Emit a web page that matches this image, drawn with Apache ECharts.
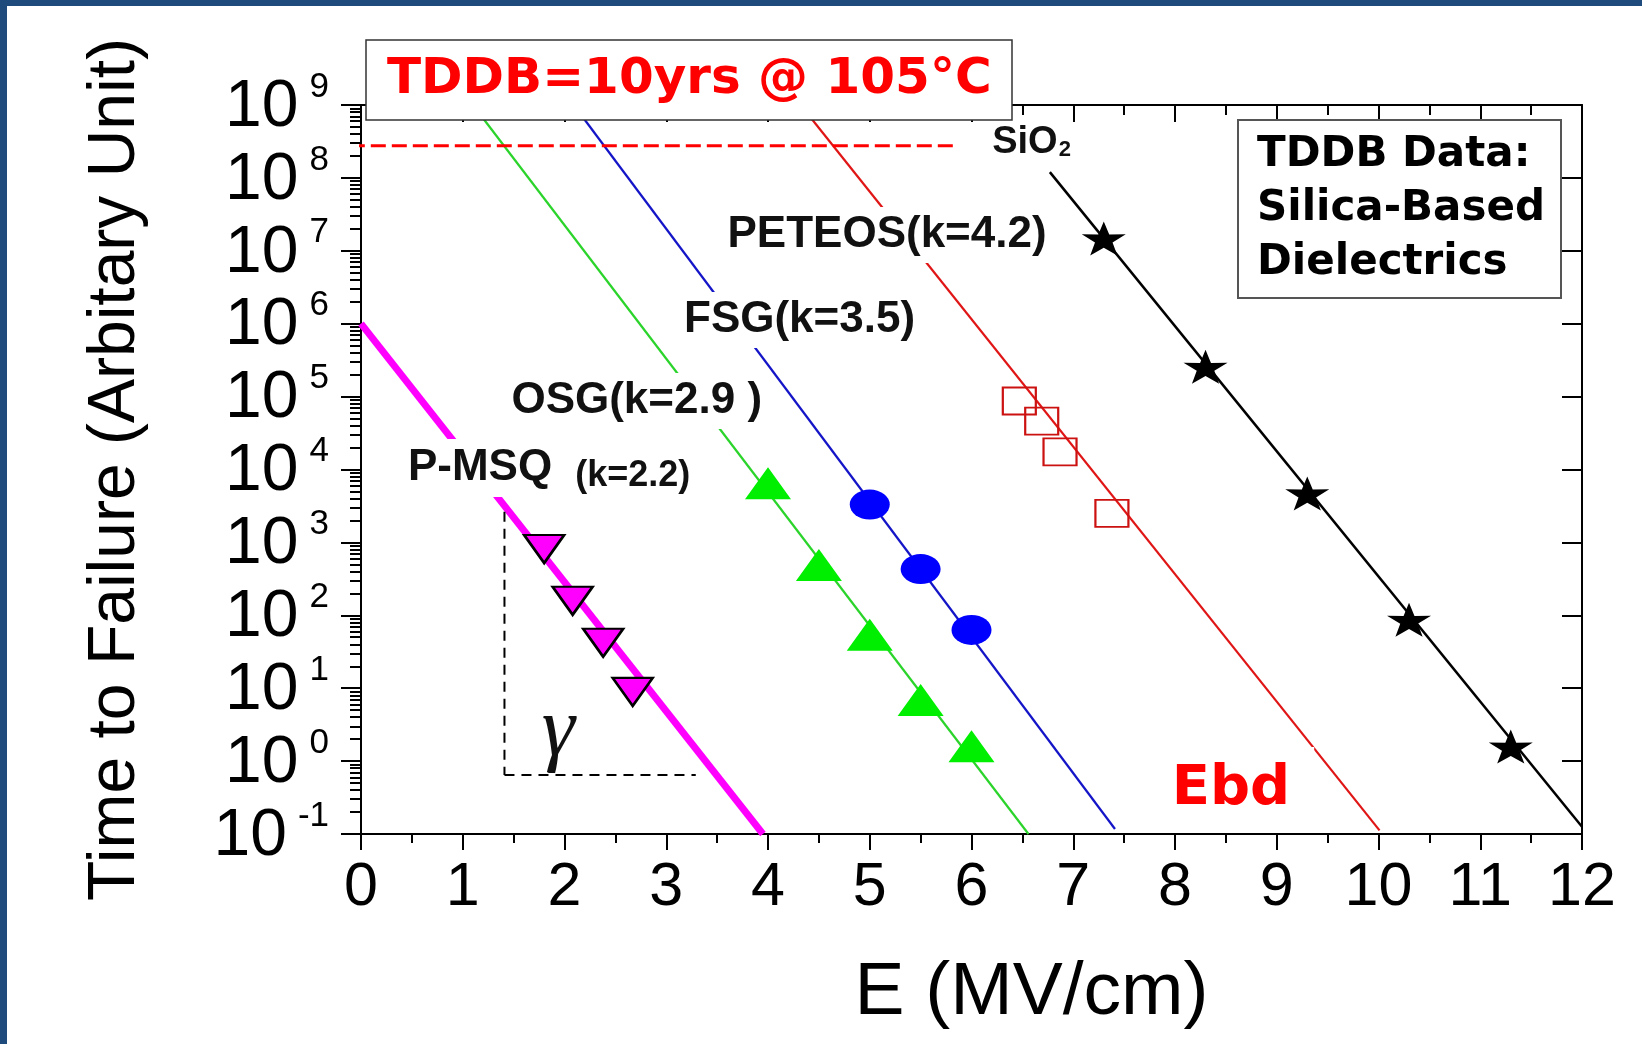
<!DOCTYPE html>
<html><head><meta charset="utf-8">
<script src="https://cdn.jsdelivr.net/npm/echarts@6/dist/echarts.min.js"></script>
<style>
html,body{margin:0;padding:0;background:#fff;}
#chart{position:absolute;left:0;top:0;width:1642px;height:1044px;}
.bar{position:absolute;background:#1f4a7c;pointer-events:none;z-index:5;}
</style></head><body>
<div id="chart"></div>
<div class="bar" style="left:0;top:0;width:1642px;height:6px"></div>
<div class="bar" style="left:0;top:0;width:7px;height:1044px"></div>
<script>
// ---------- data ----------
const xTicks = [0,1,2,3,4,5,6,7,8,9,10,11,12];
const yMajorTicks = [0.1,1,10,100,1e3,1e4,1e5,1e6,1e7,1e8,1e9];
const yMinorTicks = [];
for (let d = -1; d <= 8; d++) { for (let m = 2; m <= 9; m++) { yMinorTicks.push(Number((m * Math.pow(10, d)).toPrecision(3))); } }

// measured points (E in MV/cm, time to failure)
const pmsqPoints   = [[1.80, 810], [2.08, 158], [2.38, 42], [2.67, 8.9]];
const osgPoints    = [[4.0, 6500], [4.5, 490], [5.0, 54], [5.5, 6.9], [6.0, 1.6]];
const fsgPoints    = [[5.0, 3300], [5.5, 430], [6.0, 63]];
const peteosPoints = [[6.47, 8.7e4], [6.69, 4.6e4], [6.87, 1.74e4], [7.38, 2.5e3]];
const sio2Points   = [[7.3, 1.48e7], [8.3, 2.57e5], [9.3, 4.7e3], [10.3, 87], [11.3, 1.58]];

// fitted lines (end points)
const pmsqFit   = [[0, 1e6], [3.95, 0.1]];
const osgFit    = [[1.10, 1e9], [6.56, 0.1]];
const fsgFit    = [[2.09, 1e9], [7.41, 0.117]];
const peteosFit = [[4.32, 1e9], [10.01, 0.112]];
const sio2Fit   = [[6.77, 1.2e8], [12.0, 0.126]];

// guide lines
const tddbTarget      = [[-0.11, 2.75e8], [5.84, 2.75e8]];
const gammaVertical   = [[1.41, 2630], [1.41, 0.646]];
const gammaHorizontal = [[1.41, 0.646], [3.29, 0.646]];

// annotation texts and anchors (data coordinates)
const annotationTexts   = ['SiO2', 'PETEOS(k=4.2)', 'FSG(k=3.5)', 'OSG(k=2.9 )', 'P-MSQ', '(k=2.2)', 'γ', 'Ebd'];
const annotationAnchors = [[6.59, 3.1e8], [5.17, 1.65e7], [4.31, 1.12e6], [2.71, 8.7e4], [1.17, 1.05e4], [2.67, 8.2e3], [1.94, 2.4], [8.55, 0.414]];

// ---------- chart ----------
const SANS = "'Liberation Sans', Arial, Helvetica, sans-serif";
const DJ = "'DejaVu Sans', sans-serif";

const annotationStyles = [
  {formatter: '{a|SiO}{b|2}', rich: {a: {fontSize: 38, fontWeight: 'bold', fontFamily: SANS, color: '#111'},
                                     b: {fontSize: 22, fontWeight: 'bold', fontFamily: SANS, color: '#111', verticalAlign: 'bottom', padding: [8, 0, 0, 1]}}},
  {fontSize: 44, fontWeight: 'bold', fontFamily: SANS, color: '#111', backgroundColor: '#fff', padding: [6, 4]},
  {fontSize: 44, fontWeight: 'bold', fontFamily: SANS, color: '#111', backgroundColor: '#fff', padding: [6, 4]},
  {fontSize: 44, fontWeight: 'bold', fontFamily: SANS, color: '#111', backgroundColor: '#fff', padding: [6, 4]},
  {fontSize: 44, fontWeight: 'bold', fontFamily: SANS, color: '#111', backgroundColor: '#fff', padding: [7, 4]},
  {fontSize: 36, fontWeight: 'bold', fontFamily: SANS, color: '#111'},
  {fontSize: 84, fontStyle: 'italic', fontFamily: "'Liberation Serif', 'Times New Roman', serif", color: '#111'},
  {fontSize: 56, fontWeight: 'bold', fontFamily: DJ, color: '#ff0000', backgroundColor: '#fff', padding: [14, 24]}
];

const starPath = 'path://M50,0 L61.8,35.1 L97.6,34.5 L69,56 L79.4,90.5 L50,70 L20.6,90.5 L31,56 L2.4,34.5 L38.2,35.1 Z';

function fit(name, data, color, width, extra) {
  return Object.assign({name, type: 'line', data, symbol: 'none', showSymbol: false, silent: true, z: 2,
    lineStyle: {color, width}}, extra || {});
}
function pts(name, data, symbol, size, itemStyle, extra) {
  return Object.assign({name, type: 'scatter', data, symbol, symbolSize: size,
    itemStyle: Object.assign({opacity: 1}, itemStyle), silent: true, z: 3}, extra || {});
}

const axisLineStyle = {color: '#000', width: 2};
const tickStyle = {color: '#000', width: 2};

const option = {
  animation: false,
  backgroundColor: '#fff',
  title: [
    {text: 'TDDB=10yrs @ 105°C', left: 366, top: 40, padding: [15, 21, 15, 21],
     borderColor: '#333', borderWidth: 1.5, backgroundColor: '#fff',
     textStyle: {color: '#ff0000', fontFamily: DJ, fontWeight: 'bold', fontSize: 50, lineHeight: 50}},
    {text: 'TDDB Data:\nSilica-Based\nDielectrics', left: 1238, top: 120, padding: [8, 16, 8, 19],
     borderColor: '#555', borderWidth: 2, backgroundColor: '#fff',
     textStyle: {color: '#000', fontFamily: DJ, fontWeight: 'bold', fontSize: 42, lineHeight: 54}}
  ],
  grid: {left: 361, top: 105, width: 1221, height: 729, containLabel: false},
  xAxis: [
    {type: 'value', position: 'bottom', min: xTicks[0], max: xTicks[xTicks.length - 1], interval: 1,
     axisLine: {onZero: false, lineStyle: axisLineStyle},
     axisTick: {show: true, inside: false, length: 16, lineStyle: tickStyle},
     minorTick: {show: true, splitNumber: 2, length: 9, lineStyle: tickStyle},
     axisLabel: {fontSize: 61, color: '#000', fontFamily: SANS, margin: 24},
     splitLine: {show: false}, minorSplitLine: {show: false},
     name: 'E (MV/cm)', nameLocation: 'middle', nameGap: 122,
     nameTextStyle: {fontSize: 75, color: '#000', fontFamily: SANS, padding: [0, 0, 0, 120]}},
    {type: 'value', position: 'top', min: xTicks[0], max: xTicks[xTicks.length - 1], interval: 1,
     axisLine: {onZero: false, lineStyle: axisLineStyle},
     axisTick: {show: true, inside: true, length: 17, lineStyle: tickStyle},
     minorTick: {show: true, splitNumber: 2, length: 10, lineStyle: tickStyle},
     axisLabel: {show: false}, splitLine: {show: false}}
  ],
  yAxis: [
    {type: 'log', logBase: 10, min: 0.1, max: 1e9, position: 'left',
     axisLine: {onZero: false, lineStyle: axisLineStyle},
     axisTick: {show: true, inside: false, length: 20, customValues: yMajorTicks, lineStyle: tickStyle},
     axisLabel: {customValues: yMajorTicks, margin: 32, showMinLabel: true, showMaxLabel: true, hideOverlap: false,
       formatter: function (v) { const e = Math.round(Math.log10(v)); return '{b|10}{s|' + e + '}'; },
       rich: {b: {fontSize: 66, lineHeight: 71, fontFamily: SANS, color: '#000', verticalAlign: 'bottom'},
              s: {fontSize: 35, lineHeight: 35, fontFamily: SANS, color: '#000', padding: [0, 0, 0, 11], verticalAlign: 'top'}}},
     splitLine: {show: false},
     name: 'Time to Failure (Arbitary Unit)', nameLocation: 'middle', nameGap: 212,
     nameTextStyle: {fontSize: 66, color: '#000', fontFamily: SANS}},
    {type: 'log', logBase: 10, min: 0.1, max: 1e9, position: 'left',
     axisLine: {show: false},
     axisTick: {show: true, inside: false, length: 11, customValues: yMinorTicks, lineStyle: tickStyle},
     axisLabel: {show: false}, splitLine: {show: false}},
    {type: 'log', logBase: 10, min: 0.1, max: 1e9, position: 'right',
     axisLine: {onZero: false, lineStyle: axisLineStyle},
     axisTick: {show: true, inside: true, length: 20, customValues: yMajorTicks, lineStyle: tickStyle},
     axisLabel: {show: false}, splitLine: {show: false}},
    {type: 'log', logBase: 10, min: 0.1, max: 1e9, position: 'right',
     axisLine: {show: false},
     axisTick: {show: true, inside: true, length: 11, customValues: yMinorTicks, lineStyle: tickStyle},
     axisLabel: {show: false}, splitLine: {show: false}}
  ],
  series: [
    fit('P-MSQ fit', pmsqFit, '#ff00ff', 7),
    fit('OSG fit', osgFit, '#2bd42b', 2.2),
    fit('FSG fit', fsgFit, '#1515c8', 2.2),
    fit('PETEOS fit', peteosFit, '#e01515', 2.2),
    fit('SiO2 fit', sio2Fit, '#000000', 2.5),
    fit('10 years', tddbTarget, '#ff0000', 3, {clip: false, lineStyle: {color: '#ff0000', width: 3, type: [15, 6]}}),
    fit('gamma v', gammaVertical, '#000', 2, {lineStyle: {color: '#000', width: 2, type: [10, 7]}}),
    fit('gamma h', gammaHorizontal, '#000', 2, {lineStyle: {color: '#000', width: 2, type: [10, 7]}}),
    pts('P-MSQ', pmsqPoints, 'triangle', [40, 28], {color: '#ff00ff', borderColor: '#000', borderWidth: 2.5}, {symbolRotate: 180}),
    pts('OSG', osgPoints, 'triangle', [46, 32], {color: '#00ee00'}),
    pts('FSG', fsgPoints, 'circle', [40, 30], {color: '#0000ff'}),
    pts('PETEOS', peteosPoints, 'rect', [33, 27], {color: 'rgba(0,0,0,0)', borderColor: '#cc1111', borderWidth: 2}),
    pts('SiO2', sio2Points, starPath, [44, 34], {color: '#000'}),
    {name: 'annotations', type: 'scatter', z: 10, silent: true, clip: false, symbolSize: 1,
     itemStyle: {color: 'rgba(0,0,0,0)', opacity: 1},
     data: annotationTexts.map((t, i) => ({value: annotationAnchors[i],
       label: Object.assign({show: true, position: 'inside', formatter: t, opacity: 1}, annotationStyles[i])}))}
  ]
};

const chart = echarts.init(document.getElementById('chart'), null, {renderer: 'canvas'});
chart.setOption(option);
</script>
</body></html>
